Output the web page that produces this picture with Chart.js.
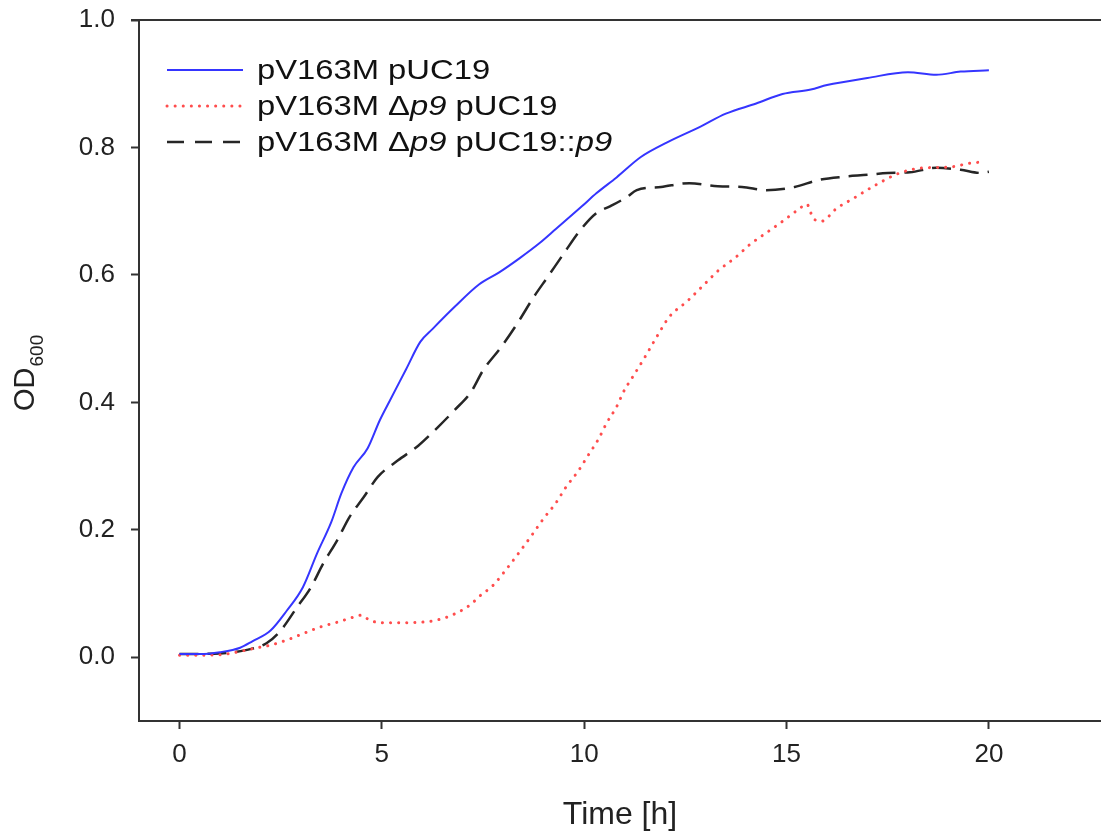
<!DOCTYPE html>
<html>
<head>
<meta charset="utf-8">
<script src="https://cdn.jsdelivr.net/npm/chart.js@4"></script>
<style>
  html, body { margin: 0; padding: 0; background: #fff; }
  #wrap { width: 1101px; height: 838px; }
</style>
</head>
<body>
<div id="wrap"><canvas id="od-chart"></canvas></div>
<script>
// series: pV163M pUC19 (blue, solid)
const tBlue = [0,0.5,1.0,1.5,1.8,2.25,2.65,3.05,3.4,3.75,4.0,4.3,4.65,4.95,5.2,5.6,5.95,6.25,6.8,7.4,7.9,8.4,8.9,9.3,9.95,10.3,10.8,11.4,12.05,12.85,13.5,14.25,14.9,15.6,16.0,17.0,18.0,18.7,19.3,20.0];
const odBlue = [0.005,0.005,0.008,0.015,0.025,0.042,0.073,0.11,0.163,0.212,0.257,0.298,0.328,0.372,0.403,0.452,0.495,0.515,0.55,0.585,0.604,0.626,0.65,0.672,0.708,0.728,0.753,0.785,0.808,0.832,0.853,0.869,0.884,0.891,0.898,0.909,0.918,0.914,0.919,0.921];

// series: pV163M Δp9 pUC19 (red, dotted)
const tRed = [0,1.0,1.4,1.85,2.25,2.65,3.05,3.5,3.9,4.2,4.5,4.7,5.1,5.95,6.4,6.8,7.2,7.4,7.75,8.1,8.4,8.7,9.0,9.3,9.55,9.85,10.1,10.35,10.55,10.8,11.0,11.15,11.5,11.85,12.1,12.55,12.95,13.3,13.75,14.1,14.5,14.9,15.3,15.5,15.65,15.85,16.25,16.65,17.2,17.8,18.4,19.0,19.6,19.9];
const odRed = [0.003,0.004,0.008,0.014,0.019,0.027,0.037,0.048,0.055,0.061,0.066,0.058,0.054,0.055,0.059,0.068,0.083,0.095,0.113,0.14,0.165,0.191,0.218,0.242,0.267,0.292,0.317,0.342,0.367,0.393,0.42,0.435,0.471,0.509,0.534,0.559,0.584,0.606,0.628,0.648,0.666,0.684,0.703,0.711,0.69,0.684,0.705,0.72,0.741,0.76,0.768,0.769,0.776,0.777];

// series: pV163M Δp9 pUC19::p9 (black, dashed)
const tBlack = [0,1.0,1.7,2.15,2.5,2.9,3.25,3.55,3.9,4.2,4.55,4.9,5.4,5.9,6.4,6.8,7.2,7.5,7.95,8.35,8.75,9.1,9.5,9.9,10.3,10.65,11.05,11.3,11.9,12.6,13.3,13.9,14.5,15.2,15.8,16.4,17.0,17.5,18.05,18.7,19.3,19.8,20.0];
const odBlack = [0.005,0.006,0.012,0.022,0.042,0.078,0.11,0.147,0.184,0.22,0.251,0.283,0.309,0.332,0.362,0.388,0.416,0.45,0.487,0.524,0.565,0.597,0.634,0.67,0.697,0.708,0.722,0.733,0.738,0.744,0.739,0.738,0.733,0.738,0.749,0.754,0.757,0.76,0.761,0.768,0.765,0.76,0.762];

const xTicks = [0, 5, 10, 15, 20];
const yTicks = [0.0, 0.2, 0.4, 0.6, 0.8, 1.0];

// legend entries: text runs, "i" = italic
const legendRows = [
  [["pV163M pUC19", ""]],
  [["pV163M \u0394", ""], ["p9", "i"], [" pUC19", ""]],
  [["pV163M \u0394", ""], ["p9", "i"], [" pUC19::", ""], ["p9", "i"]]
];

const FONT = "'Liberation Sans', Arial, sans-serif";
const BLUE = "#3535ff", RED = "#ff4d4d", BLACK = "#262626", AXIS = "#333";

function pts(ts, vs) { return ts.map((t, i) => ({ x: t, y: vs[i] })); }

const datasets = [
  { label: "pV163M pUC19", data: pts(tBlue, odBlue), borderColor: BLUE, borderWidth: 2 },
  { label: "pV163M Δp9 pUC19", data: pts(tRed, odRed), borderColor: RED, borderWidth: 3,
    borderDash: [0.1, 8], borderCapStyle: "round" },
  { label: "pV163M Δp9 pUC19::p9", data: pts(tBlack, odBlack), borderColor: BLACK, borderWidth: 2.5,
    borderDash: [19, 9] }
];
datasets.forEach(d => { d.pointRadius = 0; d.fill = false; d.cubicInterpolationMode = "monotone"; });

// draws the top frame line, the legend (with italic runs) and the OD600 title
const extras = {
  id: "extras",
  afterDraw(chart) {
    const ctx = chart.ctx, a = chart.chartArea;
    ctx.save();
    ctx.strokeStyle = AXIS; ctx.lineWidth = 2;
    ctx.beginPath(); ctx.moveTo(a.left - 8, a.top); ctx.lineTo(a.right, a.top); ctx.stroke();

    const sx = 167, ex = 243, tx = 257, ys = [70, 106, 142];
    const styles = [
      { c: BLUE, w: 2, dash: [], cap: "butt" },
      { c: RED, w: 3, dash: [0.1, 8], cap: "round" },
      { c: BLACK, w: 2.5, dash: [17, 11], cap: "butt" }
    ];
    legendRows.forEach((row, i) => {
      const s = styles[i];
      ctx.strokeStyle = s.c; ctx.lineWidth = s.w; ctx.setLineDash(s.dash); ctx.lineCap = s.cap;
      ctx.beginPath(); ctx.moveTo(sx, ys[i]); ctx.lineTo(ex, ys[i]); ctx.stroke();
      ctx.setLineDash([]); ctx.lineCap = "butt";
      ctx.save();
      ctx.translate(tx, ys[i] + 1);
      ctx.scale(1.17, 1);
      ctx.fillStyle = "#111"; ctx.textBaseline = "middle"; ctx.textAlign = "left";
      let x = 0;
      row.forEach(([txt, st]) => {
        ctx.font = (st === "i" ? "italic " : "") + "28px " + FONT;
        ctx.fillText(txt, x, 0);
        x += ctx.measureText(txt).width;
      });
      ctx.restore();
    });

    ctx.translate(34, 411);
    ctx.rotate(-Math.PI / 2);
    ctx.fillStyle = "#222"; ctx.textAlign = "left"; ctx.textBaseline = "alphabetic";
    ctx.font = "29px " + FONT;
    ctx.fillText("OD", 0, 0);
    const w = ctx.measureText("OD").width;
    ctx.font = "19px " + FONT;
    ctx.fillText("600", w + 1, 9);
    ctx.restore();
  }
};

new Chart(document.getElementById("od-chart"), {
  type: "line",
  data: { datasets: datasets },
  plugins: [extras],
  options: {
    responsive: true,
    maintainAspectRatio: false,
    animation: false,
    layout: { padding: { left: 0, right: 0, top: 20, bottom: 0 } },
    plugins: { legend: { display: false }, tooltip: { enabled: false } },
    scales: {
      x: {
        type: "linear",
        min: -1, max: 22.77,
        afterBuildTicks: s => { s.ticks = xTicks.map(v => ({ value: v })); },
        afterFit: s => { s.height = 117; },
        ticks: { color: "#222", font: { family: FONT, size: 26 }, padding: 10, maxRotation: 0 },
        grid: { drawOnChartArea: false, drawTicks: true, tickLength: 8, tickWidth: 2, tickColor: AXIS },
        border: { display: true, color: AXIS, width: 2 },
        title: { display: true, text: "Time [h]", color: "#222", font: { family: FONT, size: 32 }, padding: { top: 10, bottom: 4 } }
      },
      y: {
        min: -0.1, max: 1.0,
        afterBuildTicks: s => { s.ticks = yTicks.map(v => ({ value: v })); },
        afterFit: s => { s.width = 139; s.paddingTop = 0; s.paddingBottom = 0; },
        ticks: { color: "#222", font: { family: FONT, size: 26, lineHeight: 0.5 }, padding: 16, callback: v => v.toFixed(1) },
        grid: { drawOnChartArea: false, drawTicks: true, tickLength: 8, tickWidth: 2, tickColor: AXIS },
        border: { display: true, color: AXIS, width: 2 }
      }
    }
  }
});
</script>
</body>
</html>
